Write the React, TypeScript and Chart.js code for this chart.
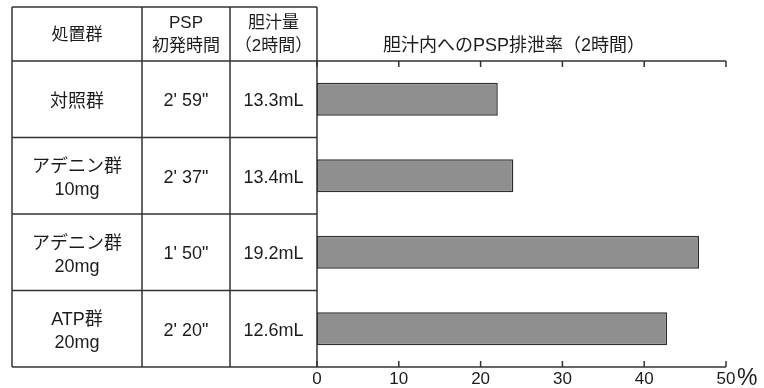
import React, { useEffect, useRef } from "react";
import { Chart, registerables } from "chart.js";

Chart.register(...registerables);

// ---- data ----
const groups: string[][] = [
  ["対照群"],
  ["アデニン群", "10mg"],
  ["アデニン群", "20mg"],
  ["ATP群", "20mg"],
];
const pspTimes: string[] = ["2' 59\"", "2' 37\"", "1' 50\"", "2' 20\""];
const bileVolumes: string[] = ["13.3mL", "13.4mL", "19.2mL", "12.6mL"];
const excretionRates: number[] = [22.1, 24.0, 46.7, 42.8];
const headerLabels: string[][] = [["処置群"], ["PSP", "初発時間"], ["胆汁量", "（2時間）"]];
const chartTitle = "胆汁内へのPSP排泄率（2時間）";
const xTicks: number[] = [0, 10, 20, 30, 40, 50];
const unitLabel = "%";

const FONT = "'Liberation Sans', 'Noto Sans CJK JP', sans-serif";
const TEXT = "#1c1c1c";
const LINE = "#333333";

const tablePlugin = {
  id: "tablePlugin",
  afterDraw(chart: any) {
    const { ctx, chartArea } = chart;
    const xs = chart.scales.x;
    const ys = chart.scales.y;
    const colX = [12, 142, 230, chartArea.left];
    const topY = 7;
    const headBottom = chartArea.top;
    const bottom = chartArea.bottom;
    ctx.save();
    ctx.strokeStyle = LINE;
    ctx.lineWidth = 1.5;
    const line = (x1: number, y1: number, x2: number, y2: number) => {
      ctx.beginPath();
      ctx.moveTo(x1, y1);
      ctx.lineTo(x2, y2);
      ctx.stroke();
    };
    colX.forEach((x) => line(x, topY, x, bottom));
    line(colX[0], topY, colX[3], topY);
    line(colX[0], headBottom, chartArea.right, headBottom);
    line(colX[0], bottom, chartArea.right, bottom);
    const n = groups.length;
    const centers = groups.map((_, i) => ys.getPixelForValue(i));
    for (let i = 0; i < n - 1; i++) {
      const y = (centers[i] + centers[i + 1]) / 2;
      line(colX[0], y, colX[3], y);
    }
    xTicks.forEach((v) => {
      const x = xs.getPixelForValue(v);
      line(x, headBottom, x, headBottom + 6);
      line(x, bottom, x, bottom - 6);
    });

    ctx.fillStyle = TEXT;
    ctx.textAlign = "center";
    ctx.textBaseline = "middle";
    const drawLines = (lines: string[], cx: number, cy: number, gap: number) => {
      const start = cy - ((lines.length - 1) * gap) / 2;
      lines.forEach((t, k) => ctx.fillText(t, cx, start + k * gap));
    };
    const colCenters = [0, 1, 2].map((c) => (colX[c] + colX[c + 1]) / 2);
    const headMid = (topY + headBottom) / 2;
    ctx.font = `17px ${FONT}`;
    headerLabels.forEach((lines, c) => drawLines(lines, colCenters[c], headMid + 1, 23));
    ctx.font = `18px ${FONT}`;
    groups.forEach((lines, i) => {
      const cy = centers[i] + 2;
      drawLines(lines, colCenters[0], cy + 1, 23);
      drawLines([pspTimes[i]], colCenters[1], cy, 23);
      drawLines([bileVolumes[i]], colCenters[2], cy, 23);
    });
    ctx.font = `18px ${FONT}`;
    ctx.fillText(chartTitle, 514, 46);
    ctx.textAlign = "left";
    ctx.font = `23px ${FONT}`;
    ctx.fillText(unitLabel, xs.getPixelForValue(50) + 11, 379);
    ctx.restore();
  },
};

export default function App() {
  const ref = useRef<HTMLCanvasElement>(null);
  useEffect(() => {
    if (!ref.current) return;
    const chart = new Chart(ref.current, {
      type: "bar",
      data: {
        labels: groups.map((g) => g.join(" ")),
        datasets: [
          {
            data: excretionRates,
            backgroundColor: "#8f8f8f",
            borderColor: "#2e2e2e",
            borderWidth: 1.5,
            borderSkipped: false,
            barPercentage: 0.43,
            categoryPercentage: 1,
          },
        ],
      },
      options: {
        indexAxis: "y",
        responsive: false,
        animation: false,
        layout: { padding: { left: 317, top: 61, right: 38, bottom: 0 } },
        plugins: { legend: { display: false }, tooltip: { enabled: false }, title: { display: false } },
        scales: {
          y: { display: false },
          x: {
            min: 0,
            max: 50,
            afterFit: (s: any) => {
              s.height = 21;
            },
            afterBuildTicks: (s: any) => {
              s.ticks = xTicks.map((v) => ({ value: v }));
            },
            grid: { display: false, drawTicks: false },
            border: { display: false },
            ticks: {
              color: TEXT,
              font: { family: FONT, size: 17 },
              padding: 2,
              maxRotation: 0,
              callback: (v: any) => String(v),
            },
          },
        },
      },
      plugins: [tablePlugin],
    });
    return () => chart.destroy();
  }, []);
  return (
    <div style={{ position: "absolute", left: 0, top: 0, width: 764, height: 388, background: "#fff" }}>
      <canvas ref={ref} width={764} height={388} />
    </div>
  );
}
